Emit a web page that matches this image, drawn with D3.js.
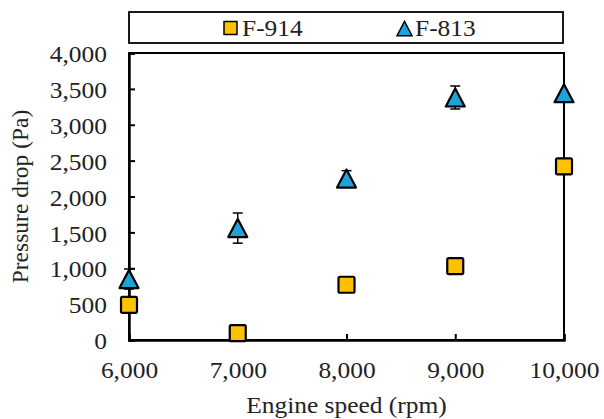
<!DOCTYPE html>
<html>
<head>
<meta charset="utf-8">
<script src="https://cdnjs.cloudflare.com/ajax/libs/d3/7.8.5/d3.min.js"></script>
<style>
  body { margin: 0; background: #fff; }
  svg text { font-family: "Liberation Serif", "Times New Roman", serif; fill: #222; }
</style>
</head>
<body>
<div class="container"></div>
<script>
// data
const speeds = [6000, 7000, 8000, 9000, 10000];
const f914 = [490, 95, 770, 1030, 2420];
const f813 = [850, 1560, 2250, 3380, 3440];
const f813Err = [140, 210, 110, 160, 0];
const yTicks = [0, 500, 1000, 1500, 2000, 2500, 3000, 3500, 4000];
const xTicks = [6000, 7000, 8000, 9000, 10000];

const w = 604;
const h = 419;
const padL = 129, padR = 564, padT = 53, padB = 340;
const fontSize = 24;
const sx = 1.06; // text looks a bit wide in the picture

const svg = d3.select(".container")
              .append("svg")
              .attr("width", w)
              .attr("height", h);

const xScale = d3.scaleLinear().domain([6000, 10000]).range([padL, padR]);
const yScale = d3.scaleLinear().domain([0, 4000]).range([padB, padT]);
const fmt = d3.format(",");

const label = (g, x, y, txt, anchor) =>
    g.append("text")
     .attr("transform", "translate(" + x + "," + y + ") scale(" + sx + ",1)")
     .attr("text-anchor", anchor || "start")
     .style("font-size", fontSize + "px")
     .text(txt);

// plot frame
svg.append("rect")
   .attr("x", padL).attr("y", padT)
   .attr("width", padR - padL).attr("height", padB - padT)
   .attr("fill", "none").attr("stroke", "#000").attr("stroke-width", 2);

// y axis, ticks pointing inward
const yAxis = d3.axisLeft(yScale).tickValues(yTicks).tickFormat(fmt).tickSize(-6);
const gy = svg.append("g").attr("transform", "translate(" + padL + ",0)").call(yAxis);
gy.attr("font-family", null).attr("font-size", null);
gy.select(".domain").attr("stroke-width", 2.5);
gy.selectAll(".tick line").attr("stroke-width", 2);
gy.selectAll(".tick text")
  .attr("x", -22 / sx).attr("dy", "0.36em").attr("fill", "#222")
  .attr("transform", "scale(" + sx + ",1)")
  .style("font-size", fontSize + "px")
  .style("font-family", "'Liberation Serif', serif");

// x axis, ticks pointing inward
const xAxis = d3.axisBottom(xScale).tickValues(xTicks).tickFormat(fmt).tickSize(-6);
const gx = svg.append("g").attr("transform", "translate(0," + padB + ")").call(xAxis);
gx.attr("font-family", null).attr("font-size", null);
gx.select(".domain").attr("stroke-width", 2.5);
gx.selectAll(".tick line").attr("stroke-width", 2);
gx.selectAll(".tick text")
  .attr("y", 38).attr("dy", null).attr("fill", "#222")
  .attr("transform", "scale(" + sx + ",1)")
  .style("font-size", fontSize + "px")
  .style("font-family", "'Liberation Serif', serif");

// axis titles
label(svg, (padL + padR) / 2, 413, "Engine speed (rpm)", "middle");

svg.append("text")
   .attr("transform", "translate(28," + ((padT + padB) / 2) + ") rotate(-90)")
   .attr("text-anchor", "middle")
   .style("font-size", "23.5px")
   .text("Pressure drop (Pa)");

// error bars for F-813
const errG = svg.append("g");
speeds.forEach((s, i) => {
    if (!f813Err[i]) return;
    const cx = xScale(s);
    const y1 = yScale(f813[i] + f813Err[i]);
    const y2 = yScale(f813[i] - f813Err[i]);
    errG.append("line").attr("x1", cx).attr("x2", cx).attr("y1", y1).attr("y2", y2)
        .attr("stroke", "#000").attr("stroke-width", 1.5);
    [y1, y2].forEach(yy => {
        errG.append("line").attr("x1", cx - 5).attr("x2", cx + 5).attr("y1", yy).attr("y2", yy)
            .attr("stroke", "#000").attr("stroke-width", 1.5);
    });
});

const triPath = (cx, cy, s) => {
    const hh = s * 0.95;
    return "M" + cx + "," + (cy - hh / 2) + "L" + (cx + s / 2) + "," + (cy + hh / 2) +
           "L" + (cx - s / 2) + "," + (cy + hh / 2) + "Z";
};

// F-914 squares
svg.append("g").selectAll("rect")
   .data(speeds)
   .enter()
   .append("rect")
   .attr("x", (d) => xScale(d) - 8)
   .attr("y", (d, i) => yScale(f914[i]) - 8)
   .attr("width", 16).attr("height", 16)
   .attr("rx", 1.5)
   .attr("fill", "#FFC000")
   .attr("stroke", "#000").attr("stroke-width", 2.2);

// F-813 triangles
svg.append("g").selectAll("path")
   .data(speeds)
   .enter()
   .append("path")
   .attr("d", (d, i) => triPath(xScale(d), yScale(f813[i]), 19))
   .attr("fill", "#1FA2D8")
   .attr("stroke", "#000").attr("stroke-width", 2.2)
   .attr("stroke-linejoin", "round");

// legend
const lg = svg.append("g");
lg.append("rect")
  .attr("x", 129).attr("y", 12).attr("width", 434).attr("height", 31)
  .attr("fill", "#fff").attr("stroke", "#000").attr("stroke-width", 1.8);
lg.append("rect")
  .attr("x", 224).attr("y", 21.5).attr("width", 13).attr("height", 13)
  .attr("fill", "#FFC000").attr("stroke", "#000").attr("stroke-width", 1.5);
label(lg, 242, 36, "F-914");
lg.append("path")
  .attr("d", triPath(404.5, 28.5, 15))
  .attr("fill", "#1FA2D8").attr("stroke", "#000").attr("stroke-width", 1.5);
label(lg, 415, 36, "F-813");
</script>
</body>
</html>
